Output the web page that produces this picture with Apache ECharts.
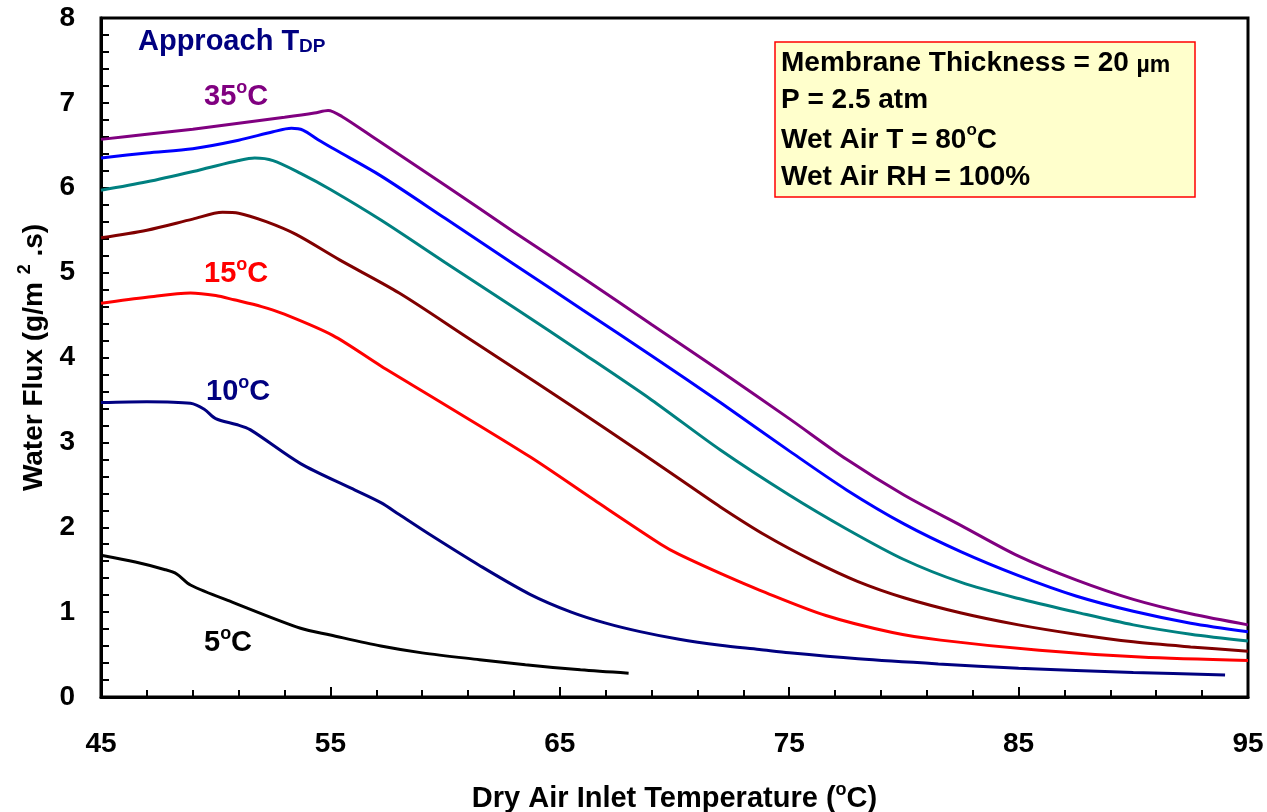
<!DOCTYPE html>
<html>
<head>
<meta charset="utf-8">
<script src="https://cdn.jsdelivr.net/npm/echarts@6/dist/echarts.min.js"></script>
<style>
  html, body { margin: 0; padding: 0; background: #fff; }
  #chart { width: 1267px; height: 812px; }
</style>
</head>
<body>
<div id="chart"></div>
<script>
// dry air inlet temperature (C) vs water flux (g/m2.s), one array per approach T_DP
var tdp5 = [[45, 1.67], [46.5, 1.59], [47.8, 1.50], [48.3, 1.45], [48.9, 1.32], [50.8, 1.11], [53.7, 0.81],
  [55, 0.73], [57.2, 0.60], [59, 0.52], [61.5, 0.44], [63.5, 0.38], [65.9, 0.32], [68.0, 0.28]];
var tdp10 = [[45, 3.47], [47, 3.48], [48.9, 3.46], [49.5, 3.39], [50.0, 3.28], [50.9, 3.21], [51.5, 3.15],
  [53.7, 2.75], [55.9, 2.46], [57.2, 2.29], [58.0, 2.15], [59.3, 1.92], [61.5, 1.55], [63.7, 1.21],
  [65.5, 1.00], [67, 0.87], [68.5, 0.77], [70.2, 0.68], [72, 0.61], [73.7, 0.56], [75, 0.52],
  [78, 0.45], [81.5, 0.39], [85, 0.34], [90, 0.29], [94.0, 0.26]];
var tdp15 = [[45, 4.64], [47, 4.71], [48.9, 4.76], [50, 4.73], [50.8, 4.68], [52, 4.60], [52.9, 4.52],
  [55.1, 4.26], [57.2, 3.90], [59.65, 3.50], [63.7, 2.83], [66.5, 2.32], [69.4, 1.80], [70.2, 1.68],
  [72.3, 1.42], [73.7, 1.26], [76.6, 0.96], [79.5, 0.76], [81.6, 0.67], [85.9, 0.55], [90.3, 0.47], [95, 0.43]];
var tdp20 = [[45, 5.41], [47, 5.50], [49, 5.63], [50.3, 5.71], [51, 5.70], [52.2, 5.60], [53.5, 5.45],
  [55.4, 5.15], [58, 4.76], [61, 4.23], [64, 3.70], [67, 3.16], [70, 2.61], [72, 2.24], [74, 1.90],
  [76, 1.61], [78, 1.36], [80, 1.17], [82.5, 0.99], [85, 0.85], [87.5, 0.74], [90, 0.65], [92.5, 0.59], [95, 0.54]];
var tdp25 = [[45, 5.97], [47, 6.07], [49.3, 6.21], [51, 6.32], [51.7, 6.35], [52.5, 6.32], [53.7, 6.17],
  [55, 5.98], [57.2, 5.62], [60, 5.12], [63, 4.59], [66, 4.05], [69, 3.50], [72, 2.91], [75, 2.38],
  [77.5, 1.98], [80, 1.62], [82.5, 1.35], [85, 1.16], [87.5, 1.00], [90, 0.85], [92.5, 0.74], [95, 0.66]];
var tdp30 = [[45, 6.35], [47, 6.41], [49, 6.46], [51, 6.56], [52.5, 6.66], [53.3, 6.70], [53.8, 6.68],
  [54.5, 6.56], [55.2, 6.45], [57.2, 6.14], [60, 5.64], [63, 5.10], [66, 4.56], [69, 4.02], [72, 3.47],
  [75, 2.90], [77.5, 2.44], [80, 2.04], [82.5, 1.71], [85, 1.43], [87.5, 1.19], [90, 1.01], [92.5, 0.87], [95, 0.77]];
var tdp35 = [[45, 6.57], [47, 6.63], [49, 6.69], [51, 6.76], [53, 6.83], [54.3, 6.88], [54.9, 6.91],
  [55.5, 6.84], [57, 6.57], [60, 6.03], [63, 5.48], [66, 4.94], [69, 4.39], [72, 3.84], [75, 3.28],
  [77.5, 2.80], [80, 2.38], [82.5, 2.02], [85, 1.66], [87.5, 1.38], [90, 1.15], [92.5, 0.98], [95, 0.85]];

var seriesNames = ['5', '10', '15', '20', '25', '30', '35'];
var seriesData = [tdp5, tdp10, tdp15, tdp20, tdp25, tdp30, tdp35];
var seriesColors = ['#000000', '#000080', '#ff0000', '#800000', '#008080', '#0000ff', '#800080'];

var font = 'Liberation Sans, Arial, sans-serif';

var myChart = echarts.init(document.getElementById('chart'));

var series = seriesData.map(function (d, i) {
  return {
    name: seriesNames[i],
    type: 'line',
    data: d,
    showSymbol: false,
    smooth: 0.3,
    lineStyle: { color: seriesColors[i], width: 3 },
    itemStyle: { color: seriesColors[i] },
    z: 3
  };
});

function label(x, y, txt, color) {
  return {
    type: 'text',
    left: x,
    top: y,
    style: {
      text: '{n|' + txt + '}{s|o}{n|C}',
      fill: color,
      rich: {
        n: { fontSize: 29, fontWeight: 'bold', fontFamily: font, fill: color, verticalAlign: 'bottom', lineHeight: 32 },
        s: { fontSize: 18, fontWeight: 'bold', fontFamily: font, fill: color, verticalAlign: 'top', lineHeight: 32 }
      }
    }
  };
}

var boxRich = {
  b: { fontSize: 28, fontWeight: 'bold', fontFamily: font, fill: '#000', verticalAlign: 'bottom', lineHeight: 32 },
  m: { fontSize: 23, fontWeight: 'bold', fontFamily: font, fill: '#000', verticalAlign: 'bottom', lineHeight: 32 },
  s: { fontSize: 17, fontWeight: 'bold', fontFamily: font, fill: '#000', verticalAlign: 'top', lineHeight: 32 }
};

option = {
  animation: false,
  backgroundColor: '#fff',
  grid: {
    left: 101, right: 19, top: 18, bottom: 115,
    outerBoundsMode: 'none',
    containLabel: false,
    show: true, borderColor: '#000', borderWidth: 3
  },
  xAxis: {
    type: 'value',
    min: 45, max: 95, interval: 10,
    name: '{t|Dry Air Inlet Temperature (}{s|o}{t|C)}',
    nameLocation: 'middle',
    nameGap: 84,
    nameTextStyle: {
      rich: {
        t: { fontSize: 29, fontWeight: 'bold', fontFamily: font, color: '#000', verticalAlign: 'bottom', lineHeight: 32 },
        s: { fontSize: 18, fontWeight: 'bold', fontFamily: font, color: '#000', verticalAlign: 'top', lineHeight: 32 }
      }
    },
    axisLine: { lineStyle: { color: '#000', width: 3 } },
    axisTick: { inside: true, length: 10, lineStyle: { color: '#000', width: 2 } },
    minorTick: { show: true, splitNumber: 5, length: 7, lineStyle: { color: '#000', width: 2 } },
    splitLine: { show: false },
    axisLabel: { margin: 33, fontSize: 28, fontWeight: 'bold', fontFamily: font, color: '#000' }
  },
  yAxis: {
    type: 'value',
    min: 0, max: 8, interval: 1,
    name: '{t|Water Flux (g/m }{s|2}{t| .s)}',
    nameLocation: 'middle',
    nameGap: 52,
    nameTextStyle: {
      rich: {
        t: { fontSize: 28, fontWeight: 'bold', fontFamily: font, color: '#000', verticalAlign: 'bottom', lineHeight: 32 },
        s: { fontSize: 18, fontWeight: 'bold', fontFamily: font, color: '#000', verticalAlign: 'top', lineHeight: 32 }
      }
    },
    axisLine: { lineStyle: { color: '#000', width: 3 } },
    axisTick: { inside: true, length: 8, lineStyle: { color: '#000', width: 2 } },
    minorTick: { show: true, splitNumber: 5, length: 8, lineStyle: { color: '#000', width: 2 } },
    splitLine: { show: false },
    axisLabel: { margin: 26, fontSize: 28, fontWeight: 'bold', fontFamily: font, color: '#000' }
  },
  series: series,
  graphic: [
    {
      type: 'text', left: 138, top: 27,
      style: {
        text: '{a|Approach T}{b|DP}',
        rich: {
          a: { fontSize: 29, fontWeight: 'bold', fontFamily: font, fill: '#000080', verticalAlign: 'bottom', lineHeight: 32 },
          b: { fontSize: 19, fontWeight: 'bold', fontFamily: font, fill: '#000080', verticalAlign: 'bottom', lineHeight: 26 }
        }
      }
    },
    label(204, 79, '35', '#800080'),
    label(204, 256, '15', '#ff0000'),
    label(206, 374, '10', '#000080'),
    label(204, 625, '5', '#000000'),
    {
      type: 'rect',
      shape: { x: 775, y: 42, width: 420, height: 155 },
      style: { fill: '#ffffcc', stroke: '#ff0000', lineWidth: 1.5 },
      z: 10
    },
    {
      type: 'text', left: 781, top: 49, z: 11,
      style: { text: '{b|Membrane Thickness = 20 }{m|\u00b5m}', rich: boxRich }
    },
    {
      type: 'text', left: 781, top: 86, z: 11,
      style: { text: '{b|P = 2.5 atm}', rich: boxRich }
    },
    {
      type: 'text', left: 781, top: 122, z: 11,
      style: { text: '{b|Wet Air T = 80}{s|o}{b|C}', rich: boxRich }
    },
    {
      type: 'text', left: 781, top: 163, z: 11,
      style: { text: '{b|Wet Air RH = 100%}', rich: boxRich }
    }
  ]
};
myChart.setOption(option);
</script>
</body>
</html>
